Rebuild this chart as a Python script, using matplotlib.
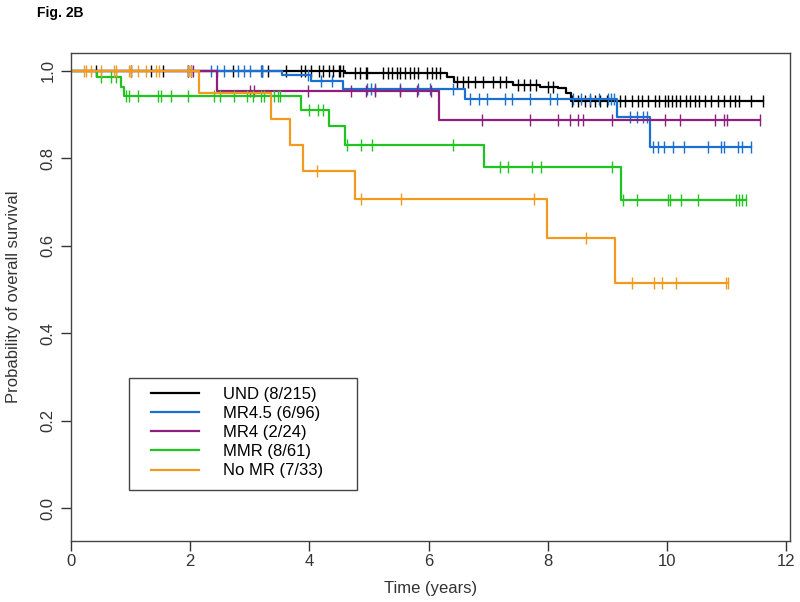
import numpy as np
import matplotlib
matplotlib.use("Agg")
import matplotlib.pyplot as plt
from matplotlib.patches import Rectangle

plt.rcParams['font.family'] = ['Liberation Sans', 'DejaVu Sans']

labels = ['UND (8/215)', 'MR4.5 (6/96)', 'MR4 (2/24)', 'MMR (8/61)', 'No MR (7/33)']
colors = ['#000000', '#1b6fcf', '#8e1f7e', '#1fc41f', '#f29a1e']

# event times (years) and survival just after each event
und_events = [4.60, 6.30, 6.42, 7.41, 7.87, 8.17, 8.30, 8.38]
und_surv = [0.996, 0.987, 0.974, 0.968, 0.963, 0.960, 0.949, 0.931]
und_censor = [0.42, 1.00, 1.34, 1.54, 1.96, 2.01, 2.71, 3.21, 3.31, 3.60, 3.85, 3.93,
              4.02, 4.16, 4.23, 4.32, 4.40, 4.49, 4.52, 4.57, 4.77, 4.85, 4.94, 4.97,
              5.24, 5.32, 5.39, 5.46, 5.52, 5.61, 5.69, 5.76, 5.82, 5.97, 6.06, 6.13,
              6.19, 6.48, 6.58, 6.66, 6.78, 6.91, 7.08, 7.20, 7.30, 7.50, 7.60, 7.70,
              7.80, 8.00, 8.08, 8.40, 8.50, 8.62, 8.70, 8.79, 8.87, 8.99, 9.21, 9.29,
              9.41, 9.51, 9.57, 9.67, 9.79, 9.87, 9.96, 10.01, 10.08, 10.14, 10.21,
              10.31, 10.38, 10.46, 10.54, 10.64, 10.74, 10.85, 10.96, 11.05, 11.13,
              11.21, 11.41, 11.60]

mr45_events = [3.54, 4.02, 4.57, 6.61, 9.15, 9.71]
mr45_surv = [0.991, 0.976, 0.959, 0.936, 0.895, 0.825]
mr45_censor = [2.34, 2.45, 2.56, 2.80, 2.90, 3.00, 3.18, 3.21, 3.97, 4.20, 4.38, 4.97,
               5.03, 5.10, 5.52, 5.82, 6.02, 6.41, 6.69, 6.85, 6.98, 7.28, 7.40, 7.70,
               8.03, 8.15, 8.42, 8.55, 8.70, 8.85, 9.00, 9.05, 9.10, 9.37, 9.50, 9.60,
               9.66, 9.76, 9.85, 9.95, 10.10, 10.29, 10.68, 10.91, 10.96, 11.18, 11.25,
               11.41]

mr4_events = [2.45, 6.18]
mr4_surv = [0.953, 0.888]
mr4_censor = [1.96, 2.04, 3.00, 3.07, 3.97, 4.69, 4.94, 5.10, 5.52, 5.80, 6.03, 6.90,
              7.70, 8.17, 8.37, 8.50, 8.58, 9.07, 9.96, 10.21, 10.80, 10.96, 11.00,
              11.55]

mmr_events = [0.43, 0.84, 0.89, 3.85, 4.32, 4.60, 6.93, 9.23]
mmr_surv = [0.985, 0.964, 0.943, 0.911, 0.873, 0.831, 0.781, 0.705]
mmr_censor = [0.50, 0.67, 0.75, 0.92, 0.97, 1.12, 1.46, 1.51, 1.67, 1.96, 2.40, 2.50,
              2.73, 2.96, 3.05, 3.18, 3.23, 3.40, 3.48, 3.51, 4.00, 4.15, 4.22, 4.63,
              4.86, 5.05, 6.41, 7.20, 7.33, 7.73, 7.88, 9.07, 9.26, 9.49, 10.01, 10.04,
              10.24, 10.51, 11.16, 11.21, 11.26, 11.33]

nomr_events = [2.15, 3.36, 3.68, 3.89, 4.77, 7.99, 9.12]
nomr_surv = [0.949, 0.889, 0.831, 0.771, 0.706, 0.617, 0.514]
nomr_censor = [0.22, 0.25, 0.33, 0.50, 0.72, 0.75, 0.97, 1.00, 1.12, 1.26, 1.42, 1.47,
               1.96, 2.01, 4.13, 4.87, 5.54, 7.77, 8.64, 9.41, 9.78, 9.92, 10.14, 10.98,
               11.02]

groups = [
    (und_events, und_surv, und_censor),
    (mr45_events, mr45_surv, mr45_censor),
    (mr4_events, mr4_surv, mr4_censor),
    (mmr_events, mmr_surv, mmr_censor),
    (nomr_events, nomr_surv, nomr_censor),
]


def km_plot(ax, events, surv, censor, color, label):
    end = max(censor)
    xs = [0] + events + [end]
    ys = [1.0] + surv + [surv[-1]]
    ax.step(xs, ys, where='post', color=color, lw=1.6, label=label)
    # censor ticks sit on the curve
    idx = np.searchsorted(events, censor, side='right')
    cy = np.r_[1.0, surv][idx]
    ax.plot(censor, cy, ls='none', marker='|', ms=8, mew=1, color=color)


fig = plt.figure(figsize=(8, 6.02), dpi=100)
ax = fig.add_axes([71 / 800, 1 - 541 / 602, 719 / 800, 488 / 602])

for (ev, sv, cs), c, lab in zip(groups, colors, labels):
    km_plot(ax, ev, sv, cs, c, lab)

ax.set_xlim(0, 12.06)
ax.set_ylim(-0.075, 1.041)
ax.set_xticks([0, 2, 4, 6, 8, 10, 12])
ax.set_yticks([0.0, 0.2, 0.4, 0.6, 0.8, 1.0])
ax.set_yticklabels(['0.0', '0.2', '0.4', '0.6', '0.8', '1.0'], rotation=90, va='center')
ax.tick_params(axis='both', labelsize=12, length=7, width=1, colors='#333333')
ax.tick_params(axis='x', pad=2)
ax.tick_params(axis='y', pad=4)
for s in ax.spines.values():
    s.set_color('#444444')
    s.set_linewidth(1)

ax.set_xlabel('Time (years)', fontsize=12, color='#333333', labelpad=9)
ax.set_ylabel('Probability of overall survival', fontsize=12, color='#333333', labelpad=14)

# legend box drawn by hand, R style
ax.add_patch(Rectangle((0.081, 0.1045), 0.317, 0.2285, transform=ax.transAxes,
                       fill=False, ec='#444444', lw=1))
ax.legend(loc='upper left', bbox_to_anchor=(0.111, 0.316), frameon=False,
          borderpad=0, borderaxespad=0, handlelength=2.9, handletextpad=1.45,
          labelspacing=0.25, fontsize=12)

fig.text(37 / 800, 1 - 17 / 602, 'Fig. 2B', fontsize=10, fontweight='bold', va='baseline')

plt.savefig('out.png', dpi=100)
